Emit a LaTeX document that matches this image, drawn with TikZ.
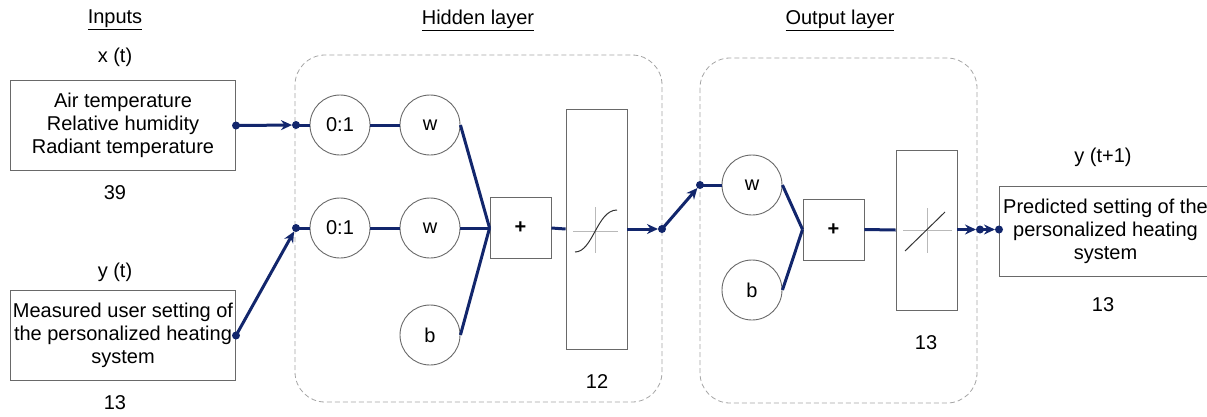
\documentclass[tikz,border=0pt]{standalone}
\usepackage{fontspec}
\setmainfont{Liberation Sans}
\usetikzlibrary{arrows.meta}
\definecolor{navy}{RGB}{18,38,108}
\definecolor{boxgray}{RGB}{105,105,105}
\definecolor{dashgray}{RGB}{165,165,165}
\definecolor{axisgray}{RGB}{185,185,185}
\begin{document}
\begin{tikzpicture}[x=1pt,y=-1pt,
  lbl/.style={font=\fontsize{20}{23}\selectfont, inner sep=0, align=center},
  iobox/.style={draw=boxgray, line width=1pt, minimum height=90pt, align=center,
    font=\fontsize{20}{23}\selectfont, inner sep=0, anchor=north west},
  neuron/.style={circle, draw=boxgray, line width=0.9pt, minimum size=60pt, inner sep=0,
    font=\fontsize{20}{23}\selectfont},
  sumbox/.style={draw=boxgray, line width=0.9pt, minimum size=61pt, inner sep=0,
    font=\fontsize{20}{23}\selectfont\bfseries},
  actbox/.style={draw=boxgray, line width=0.9pt, minimum width=61pt, inner sep=0},
  layer/.style={draw=dashgray, line width=0.8pt, dash pattern=on 5pt off 3pt, rounded corners=30pt},
  conn/.style={draw=navy, line width=3pt},
  arr/.style={conn, -{Stealth[length=11pt,width=10pt]}, shorten >=4pt},
  dot/.style={fill=navy},
  axis/.style={draw=axisgray, line width=0.8pt},
  curve/.style={draw=black!80, line width=1pt}
]
\useasboundingbox (0,0) rectangle (1207,416);

% headings
\node[lbl] (hin) at (115,20) {\underline{Inputs}};
\node[lbl] (hhid) at (478,20) {\underline{Hidden layer}};
\node[lbl] (hout) at (840,20) {\underline{Output layer}};

% layers
\draw[layer] (295,55) rectangle (662,402);
\draw[layer] (700,58) rectangle (977,403);

% inputs
\node[lbl] (xt) at (115,57) {x (t)};
\node[iobox, minimum width=225pt] (in1) at (10,80) {Air temperature\\Relative humidity\\Radiant temperature};
\node[lbl] (n39) at (115,193) {39};
\node[lbl] (yt) at (115,272) {y (t)};
\node[iobox, minimum width=225pt] (in2) at (10,290) {Measured user setting of\\the personalized heating\\system};
\node[lbl] (n13a) at (115,403) {13};

% hidden layer
\node[neuron] (z1) at (340,125) {0:1};
\node[neuron] (w1) at (430,125) {w};
\node[neuron] (z2) at (340,228) {0:1};
\node[neuron] (w2) at (430,228) {w};
\node[neuron] (b1) at (430,335) {b};
\node[sumbox] (s1) at (520.5,228) {+};
\node[actbox, minimum height=240pt] (a1) at (596.5,229) {};
\node[lbl] (n12) at (597,382) {12};
\draw[axis] (573,231) -- (618,231);
\draw[axis] (595,207) -- (595,253);
\draw[curve] (575,252) .. controls (593,252) and (597,210) .. (617,210);

% output layer
\node[neuron] (w3) at (752,185) {w};
\node[neuron] (b2) at (752,290) {b};
\node[sumbox] (s2) at (833.5,229.5) {+};
\node[actbox, minimum height=160pt] (a2) at (926.5,230) {};
\node[lbl] (n13b) at (926,343) {13};
\draw[axis] (903,230) -- (952,230);
\draw[axis] (927,208) -- (927,253);
\draw[curve] (905,251) -- (945,212);

% output
\node[lbl] (yt1) at (1103,157) {y (t+1)};
\node[iobox, minimum width=212pt] (out) at (999,186) {Predicted setting of the\\personalized heating\\system};
\node[lbl] (n13c) at (1103,305) {13};

% junction coordinates
\coordinate (c1) at (296,125);
\coordinate (c2) at (296,228);
\coordinate (c3) at (662,229);
\coordinate (c4) at (700,185);
\coordinate (c5) at (980,229.5);

% connectors
\draw[arr] (in1.east) -- (c1);
\draw[arr] (in2.east) -- (c2);
\draw[conn] (c1) -- (z1.west);
\draw[conn] (c2) -- (z2.west);
\draw[conn] (z1.east) -- (w1.west);
\draw[conn] (z2.east) -- (w2.west);
\draw[conn] (w1.east) -- (s1.west);
\draw[conn] (w2.east) -- (s1.west);
\draw[conn] (b1.east) -- (s1.west);
\draw[conn] (s1.east) -- (a1.west);
\draw[arr] (a1.east) -- (c3);
\draw[arr] (c3) -- (c4);
\draw[conn] (c4) -- (w3.west);
\draw[conn] (w3.east) -- (s2.west);
\draw[conn] (b2.east) -- (s2.west);
\draw[conn] (s2.east) -- (a2.west);
\draw[arr] (a2.east |- c5) -- (c5);
\draw[arr] (c5) -- (out.west |- c5);

% dots
\fill[dot] (in1.east) circle (4);
\fill[dot] (in2.east) circle (4);
\fill[dot] (c1) circle (4);
\fill[dot] (c2) circle (4);
\fill[dot] (c3) circle (4);
\fill[dot] (c4) circle (4);
\fill[dot] (c5) circle (4);
\fill[dot] (out.west |- c5) circle (4);
\end{tikzpicture}
\end{document}
